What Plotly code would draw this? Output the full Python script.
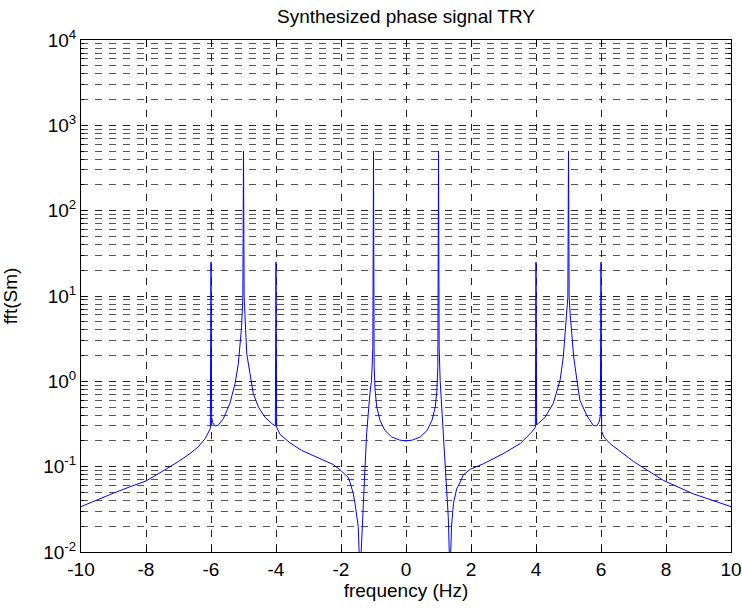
import plotly.graph_objects as go

# Frequency (Hz) and spectrum magnitude
freq = [-10.0, -9.5, -9.0, -8.5, -8.0, -7.5, -7.0, -6.65, -6.4, -6.18, -6.08, -6.02, -6.0, -5.98,
        -5.95, -5.88, -5.78, -5.62, -5.42, -5.26, -5.16, -5.11, -5.06, -5.02, -5.0, -4.98, -4.94,
        -4.9, -4.8, -4.7, -4.54, -4.34, -4.13, -4.06, -4.02, -4.0, -3.98, -3.88, -3.57, -3.21,
        -2.65, -2.24, -2.03, -1.78, -1.72, -1.62, -1.57, -1.52, -1.47, -1.415, -1.36, -1.3, -1.26,
        -1.21, -1.16, -1.11, -1.06, -1.03, -1.02, -1.0, -0.98, -0.95, -0.9, -0.8, -0.65, -0.44,
        -0.2, 0.0, 0.2, 0.44, 0.65, 0.8, 0.9, 0.95, 0.98, 1.0, 1.02, 1.05, 1.1, 1.15, 1.23, 1.3,
        1.354, 1.4, 1.46, 1.56, 1.66, 1.76, 1.97, 2.38, 2.99, 3.51, 3.87, 3.98, 4.0, 4.02, 4.07,
        4.28, 4.53, 4.74, 4.84, 4.91, 4.95, 4.98, 5.0, 5.02, 5.05, 5.09, 5.16, 5.26, 5.35, 5.56,
        5.76, 5.87, 5.95, 5.98, 6.0, 6.02, 6.09, 6.28, 6.79, 7.0, 7.92, 8.84, 10.0]
fft_sm = [0.034, 0.041, 0.049, 0.058, 0.068, 0.088, 0.115, 0.142, 0.17, 0.213, 0.255, 0.28, 25, 0.38,
          0.33, 0.30, 0.305, 0.365, 0.55, 0.94, 1.6, 2.5, 4.3, 9.7, 500, 9.7, 4.3,
          2.1, 1.23, 0.72, 0.5, 0.38, 0.32, 0.31, 0.30, 25, 0.29, 0.24, 0.19, 0.155,
          0.125, 0.106, 0.092, 0.075, 0.065, 0.048, 0.037, 0.028, 0.02, 0.005, 0.017, 0.05, 0.1,
          0.25, 0.45, 0.72, 1.03, 1.6, 2.5, 500, 1.5, 0.78, 0.5, 0.35, 0.266, 0.223,
          0.205, 0.2, 0.205, 0.223, 0.266, 0.35, 0.5, 0.78, 1.5, 500, 2.5, 1.03, 0.5, 0.22, 0.07, 0.026,
          0.005, 0.02, 0.037, 0.055, 0.065, 0.08, 0.093, 0.108, 0.142, 0.186, 0.255, 0.29, 25, 0.31, 0.32,
          0.38, 0.55, 1.03, 1.93, 3.96, 6.2, 9.7, 500, 9.7, 6.2, 3.96, 1.93, 1.03, 0.6, 0.4,
          0.305, 0.30, 0.34, 0.4, 25, 0.26, 0.223, 0.186, 0.13, 0.115, 0.069, 0.048, 0.034]

x_ticks = [-10, -8, -6, -4, -2, 0, 2, 4, 6, 8, 10]
y_ticks = [0.01, 0.1, 1, 10, 100, 1000, 10000]
y_ticktext = ["10<sup>-2</sup>", "10<sup>-1</sup>", "10<sup>0</sup>", "10<sup>1</sup>",
              "10<sup>2</sup>", "10<sup>3</sup>", "10<sup>4</sup>"]

# minor log grid positions (2..9 within each decade)
y_minor = [m * d for d in y_ticks[:-1] for m in range(2, 10)]

FONT = "Liberation Sans, Arial, sans-serif"
DASH = "7px,7px"
FS = 19

fig = go.Figure()
fig.add_trace(go.Scatter(x=freq, y=fft_sm, mode="lines",
                         line=dict(color="#0000FF", width=1), showlegend=False,
                         hoverinfo="skip"))

fig.update_layout(
    width=742, height=609,
    margin=dict(l=81, r=11, t=40, b=57, autoexpand=False),
    paper_bgcolor="white", plot_bgcolor="white",
    font=dict(family=FONT, size=FS, color="black"),
    title=dict(text="Synthesized phase signal TRY", x=0.5, xref="paper", xanchor="center",
               y=1 - 16 / 609, yref="container", yanchor="middle",
               font=dict(family=FONT, size=FS, color="black")),
)

fig.update_xaxes(
    range=[-10, 10], tickmode="array", tickvals=x_ticks, ticktext=[str(v) for v in x_ticks],
    showline=True, linecolor="black", linewidth=1, mirror="ticks",
    ticks="inside", ticklen=6, tickcolor="black", tickwidth=1,
    showgrid=True, gridcolor="#222222", gridwidth=1, griddash=DASH,
    zeroline=False, tickfont=dict(size=FS), automargin=False,
    title=dict(text="frequency (Hz)", font=dict(size=FS), standoff=4),
)

fig.update_yaxes(
    type="log", range=[-2, 4], tickmode="array", tickvals=y_ticks, ticktext=y_ticktext,
    showline=True, linecolor="black", linewidth=1, mirror="ticks",
    ticks="inside", ticklen=6, tickcolor="black", tickwidth=1,
    showgrid=True, gridcolor="#222222", gridwidth=1, griddash=DASH,
    minor=dict(tickmode="array", tickvals=y_minor, ticks="inside", ticklen=3,
               tickcolor="black", showgrid=True,
               gridcolor="#555555", gridwidth=1, griddash=DASH),
    zeroline=False, tickfont=dict(size=FS), automargin=False,
    title=dict(text="fft(Sm)", font=dict(size=FS), standoff=22),
)

fig.write_html("out.html", config={"displayModeBar": False},
               post_script="document.body.style.margin='0';document.body.style.overflow='hidden';")
